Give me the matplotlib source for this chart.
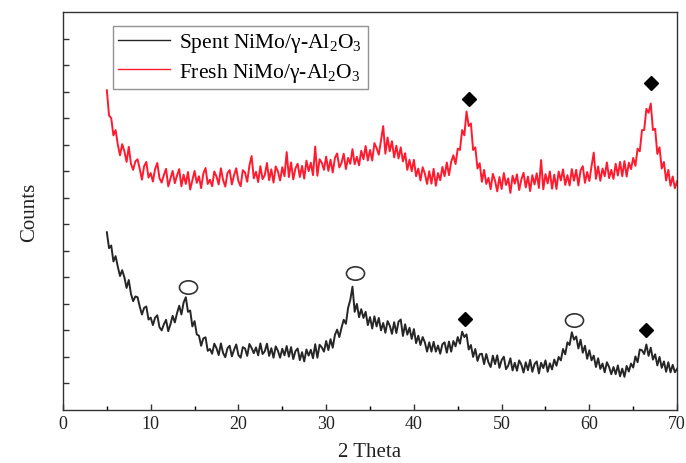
import numpy as np
import matplotlib
matplotlib.use("Agg")
import matplotlib.pyplot as plt
import matplotlib.path as mpath
from matplotlib.transforms import Affine2D

# ---- data ----
scan_start, scan_stop, scan_step = 5.0, 70.0, 0.25
two_theta = np.arange(scan_start, scan_stop + scan_step / 2, scan_step)

fresh_counts = [
    1205, 1110, 1100, 1035,
    1055, 1000, 960, 1002,
    975, 935, 992, 928,
    905, 937, 945, 909,
    868, 919, 935, 876,
    893, 861, 908, 931,
    874, 857, 886, 909,
    843, 872, 901, 855,
    884, 908, 843, 887,
    852, 897, 831, 866,
    901, 856, 881, 836,
    891, 912, 852, 868,
    843, 899, 880, 850,
    911, 867, 842, 893,
    904, 850, 885, 911,
    862, 843, 904, 895,
    860, 921, 957, 873,
    898, 859, 919, 870,
    885, 931, 866, 907,
    857, 918, 899, 865,
    915, 881, 972, 878,
    933, 869, 911, 928,
    878, 920, 872, 940,
    900, 932, 885, 993,
    883, 945, 932, 905,
    955, 901, 943, 895,
    950, 967, 914, 931,
    966, 908, 950, 928,
    983, 926, 954, 922,
    977, 945, 995, 940,
    980, 940, 1006, 987,
    962, 1016, 1070, 966,
    1027, 975, 1013, 952,
    996, 948, 990, 937,
    968, 905, 943, 900,
    943, 881, 910, 865,
    915, 891, 852, 900,
    853, 909, 845, 893,
    866, 916, 881, 933,
    885, 935, 960, 927,
    985, 980, 1055, 1035,
    1125, 1070, 1080, 980,
    990, 910, 930, 860,
    905, 852, 875, 832,
    890, 864, 824, 878,
    833, 893, 848, 873,
    818, 883, 853, 888,
    829, 869, 894, 839,
    880, 825, 885, 850,
    892, 837, 942, 832,
    889, 854, 899, 834,
    887, 833, 899, 865,
    907, 848, 885, 846,
    908, 864, 905, 846,
    903, 919, 856, 897,
    863, 919, 970, 871,
    918, 864, 910, 881,
    933, 874, 905, 871,
    928, 884, 935, 881,
    938, 880, 932, 908,
    950, 920, 985, 975,
    1055, 1055, 1135, 1120,
    1155, 1055, 1060, 965,
    990, 910, 935, 865,
    905, 845, 880, 836,
    862,
]

spent_counts = [
    670, 610, 620, 560,
    580, 540, 505, 527,
    500, 460, 490, 438,
    410, 428, 425, 390,
    360, 385, 390, 341,
    348, 320, 348, 357,
    312, 300, 323, 340,
    297, 323, 355, 330,
    365, 393, 360, 405,
    425, 370, 375, 315,
    335, 285, 280, 242,
    270, 274, 223, 230,
    212, 250, 233, 207,
    251, 215, 199, 233,
    242, 202, 227, 247,
    207, 197, 237, 232,
    204, 249, 234, 214,
    236, 206, 251, 211,
    221, 250, 204, 233,
    197, 240, 223, 197,
    231, 206, 241, 201,
    237, 192, 222, 232,
    188, 218, 183, 228,
    205, 227, 195, 248,
    197, 246, 236, 220,
    260, 226, 267, 235,
    283, 303, 275, 310,
    340, 325, 385, 415,
    465, 370, 400, 350,
    380, 347, 370, 320,
    350, 307, 353, 315,
    347, 300, 328, 291,
    335, 318, 287, 331,
    290, 333, 341, 279,
    323, 284, 310, 268,
    305, 252, 280, 245,
    275, 255, 220, 255,
    220, 257, 220, 243,
    212, 248, 255, 216,
    258, 220, 260, 240,
    275, 250, 295, 275,
    285, 228, 245, 200,
    230, 185, 210, 212,
    173, 211, 179, 162,
    205, 173, 206, 159,
    188, 201, 154, 167,
    195, 149, 178, 148,
    187, 171, 141, 180,
    150, 189, 144, 173,
    183, 138, 178, 158,
    187, 144, 176, 153,
    190, 167, 200, 187,
    230, 210, 255, 245,
    293, 265, 277, 232,
    265, 216, 242, 193,
    225, 187, 205, 162,
    195, 155, 175, 142,
    180, 162, 135, 162,
    135, 168, 127, 156,
    125, 166, 145, 175,
    160, 202, 180, 228,
    225, 211, 247, 204,
    235, 190, 210, 168,
    200, 159, 183, 144,
    180, 142, 170, 142,
    155,
]

# phase markers
circle_x = [14.3, 33.3, 58.2]
circle_y = [464, 516, 339]
diamond_x = [45.8, 66.5, 46.3, 67.0]
diamond_y = [343, 302, 1172, 1232]

labels = ["Spent NiMo/γ-Al$_2$O$_3$", "Fresh NiMo/γ-Al$_2$O$_3$"]
x_ticks = [0, 10, 20, 30, 40, 50, 60, 70]

# ---- plot ----
plt.rcParams["font.family"] = ["Liberation Serif", "DejaVu Serif"]
plt.rcParams["mathtext.fontset"] = "custom"
plt.rcParams["mathtext.rm"] = "Liberation Serif"
plt.rcParams["mathtext.it"] = "Liberation Serif:italic"

fig = plt.figure(figsize=(6.86, 4.64), dpi=100)
ax = fig.add_axes([0.0918, 0.1142, 0.8952, 0.8578])

ax.plot(two_theta, spent_counts, color="#262626", lw=1.4, label=labels[0])
ax.plot(two_theta, fresh_counts, color="#ff1a2e", lw=1.4, label=labels[1])

ell = mpath.Path.unit_circle().transformed(Affine2D().scale(1.35, 1.0))
ax.plot(circle_x, circle_y, linestyle="none", marker=ell, markersize=13,
        mfc="white", mec="#333333", mew=1.2)
ax.plot(diamond_x, diamond_y, linestyle="none", marker="D", markersize=7,
        color="black")

ax.set_xlim(0, 70)
ax.set_ylim(0, 1500)
ax.set_xticks(x_ticks)
ax.set_xticks(np.arange(5, 70, 10), minor=True)
ax.set_yticks(np.arange(100, 1500, 100))
ax.set_yticklabels([])
ax.tick_params(direction="in", length=4, width=1, colors="#333333",
               labelcolor="#222222", labelsize=13, top=False, right=False)
ax.tick_params(which="minor", direction="in", length=3, width=1,
               top=False, right=False)
for s in ax.spines.values():
    s.set_color("#333333")
    s.set_linewidth(1.0)

ax.set_xlabel("2 Theta", fontsize=15, color="#222222", labelpad=7)
ax.set_ylabel("Counts", fontsize=15, color="#222222", labelpad=14)

leg = ax.legend(loc="upper left", bbox_to_anchor=(0.081, 0.965),
                borderaxespad=0, fontsize=15.5, frameon=True, fancybox=False,
                edgecolor="#777777", handlelength=2.4, handletextpad=0.45,
                borderpad=0.25, labelspacing=0.3)
leg.get_frame().set_linewidth(1.0)
for line in leg.get_lines():
    line.set_linewidth(1.0)

fig.savefig("out.png", dpi=100)
